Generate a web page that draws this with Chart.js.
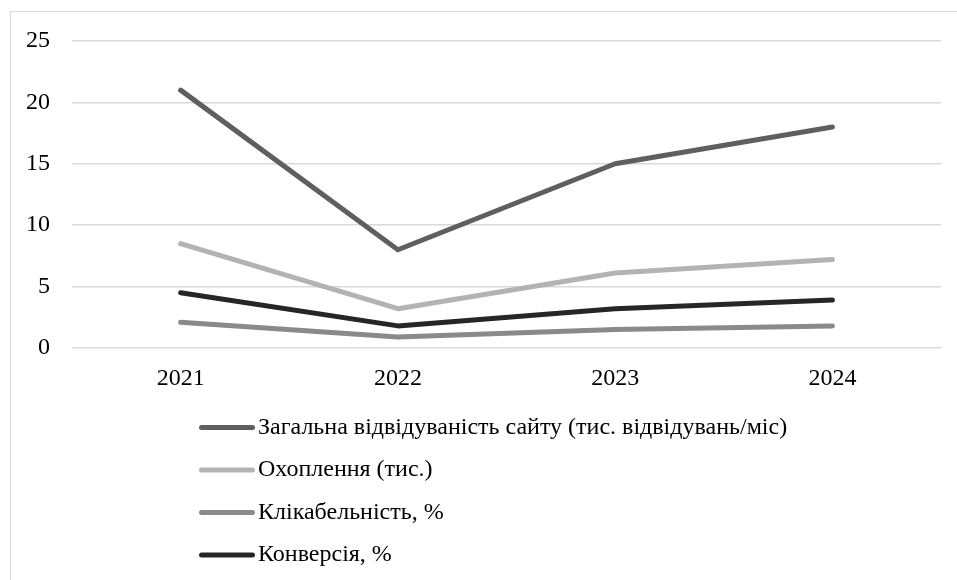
<!DOCTYPE html>
<html>
<head>
<meta charset="utf-8">
<script src="https://cdn.jsdelivr.net/npm/chart.js@4.4.1/dist/chart.umd.min.js"></script>
<style>
  html, body { margin: 0; padding: 0; background: #fff; }
  #wrap { position: relative; width: 957px; height: 580px; overflow: hidden; }
  #frame { position: absolute; left: 10px; top: 11px; width: 1000px; height: 1000px;
           border: 1px solid #d9d9d9; box-sizing: border-box; }
  canvas { position: absolute; left: 0; top: 0; }
</style>
</head>
<body>
<div id="wrap">
  <div id="frame"></div>
  <canvas id="c" width="957" height="580"></canvas>
</div>
<script>
// Years on the horizontal axis
const years = ['2021', '2022', '2023', '2024'];

// Series values
const siteVisits = [21, 8, 15, 18];       // тис. відвідувань/міс
const reach = [8.5, 3.2, 6.1, 7.2];        // тис.
const clickRate = [2.1, 0.9, 1.5, 1.8];    // %
const conversion = [4.5, 1.8, 3.2, 3.9];   // %

const seriesNames = [
  'Загальна відвідуваність сайту (тис. відвідувань/міс)',
  'Охоплення (тис.)',
  'Клікабельність, %',
  'Конверсія, %'
];
const seriesColors = ['#5f5f5f', '#b3b3b3', '#8a8a8a', '#262626'];

const yTicks = [0, 5, 10, 15, 20, 25];

const FONT = '"Liberation Serif", "Times New Roman", serif';

function lineSet(label, data, color) {
  return {
    label, data,
    borderColor: color, backgroundColor: color,
    borderWidth: 5, borderCapStyle: 'round', borderJoinStyle: 'round',
    pointRadius: 0, pointHoverRadius: 0, tension: 0, fill: false
  };
}

// Vertical legend under the plot: short thick line followed by the series name
const stackedLegend = {
  id: 'stackedLegend',
  afterDraw(chart) {
    const ctx = chart.ctx;
    const x0 = 199, x1 = 255, textX = 258;
    const rows = [427.5, 470, 512.5, 555];
    ctx.save();
    ctx.font = '24px ' + FONT;
    ctx.textBaseline = 'middle';
    ctx.textAlign = 'left';
    chart.data.datasets.forEach((ds, i) => {
      const y = rows[i];
      ctx.strokeStyle = ds.borderColor;
      ctx.lineWidth = 5;
      ctx.lineCap = 'round';
      ctx.beginPath();
      ctx.moveTo(x0 + 2.5, y);
      ctx.lineTo(x1 - 2.5, y);
      ctx.stroke();
      ctx.fillStyle = '#000';
      ctx.fillText(ds.label, textX, y);
    });
    ctx.restore();
  }
};

new Chart(document.getElementById('c'), {
  type: 'line',
  data: {
    labels: years,
    datasets: [
      lineSet(seriesNames[0], siteVisits, seriesColors[0]),
      lineSet(seriesNames[1], reach, seriesColors[1]),
      lineSet(seriesNames[2], clickRate, seriesColors[2]),
      lineSet(seriesNames[3], conversion, seriesColors[3])
    ]
  },
  options: {
    responsive: false,
    animation: false,
    devicePixelRatio: 1,
    layout: { padding: { top: 41, right: 16, left: 0, bottom: 0 } },
    plugins: { legend: { display: false }, tooltip: { enabled: false } },
    scales: {
      x: {
        offset: true,
        grid: { display: false, drawTicks: false },
        border: { display: false },
        ticks: { color: '#000', font: { family: FONT, size: 24 }, padding: 16, maxRotation: 0 },
        afterFit(scale) { scale.height = 580 - 348; }
      },
      y: {
        min: 0, max: 25,
        afterBuildTicks(scale) { scale.ticks = yTicks.map(v => ({ value: v })); },
        grid: { color: '#d9d9d9', lineWidth: 1.5, drawTicks: false },
        border: { display: false },
        ticks: { color: '#000', font: { family: FONT, size: 24 }, padding: 22 },
        afterFit(scale) { scale.width = 72; }
      }
    }
  },
  plugins: [stackedLegend]
});
</script>
</body>
</html>
